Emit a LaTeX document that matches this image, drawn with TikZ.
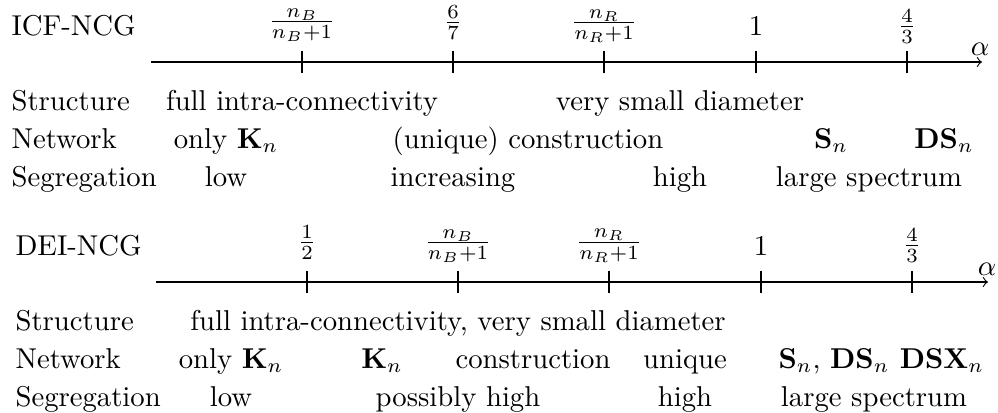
\documentclass[tikz,border=0pt]{standalone}
\begin{document}
\begin{tikzpicture}[x=0.34843pt,y=-0.34843pt,
  txt/.style={anchor=base,inner sep=0pt},
  hd/.style={anchor=base west,inner sep=0pt},
  tickmark/.style={line width=0.4pt}]
\useasboundingbox (0,0) rectangle (998,412);
% ---------------- top: ICF-NCG ----------------
\node[hd] (icf) at (11,35) {ICF-NCG};
\coordinate (ta0) at (151,62);
\coordinate (ta1) at (982,62);
\draw[->] (ta0) -- (ta1);
\foreach \x in {302,453,604,756,907} {\draw[tickmark] (\x,51) -- (\x,73);}
\node[txt] (tl1) at (302,29) {$\frac{n_B}{n_B+1}$};
\node[txt] (tl2) at (453,29.5) {$\frac{6}{7}$};
\node[txt] (tl3) at (604,30) {$\frac{n_R}{n_R+1}$};
\node[txt] (tl4) at (756,35) {$1$};
\node[txt] (tl5) at (907,33.5) {$\frac{4}{3}$};
\node[txt] (talpha) at (980,55) {$\alpha$};
\node[hd] (ts) at (11,110) {Structure};
\node[hd] (tn) at (11,148) {Network};
\node[hd] (tg) at (11,186) {Segregation};
\node[txt] (ts1) at (302,110) {full intra-connectivity};
\node[txt] (ts2) at (680,110) {very small diameter};
\node[txt] (tn1) at (226,148) {only $\mathbf{K}_n$};
\node[txt] (tn2) at (528,148) {(unique) construction};
\node[txt] (tn3) at (831,148) {$\mathbf{S}_n$};
\node[txt] (tn4) at (944,148) {$\mathbf{DS}_n$};
\node[txt] (tg1) at (226,186) {low};
\node[txt] (tg2) at (453,186) {increasing};
\node[txt] (tg3) at (680,186) {high};
\node[txt] (tg4) at (869,186) {large spectrum};
% ---------------- bottom: DEI-NCG ----------------
\node[hd] (dei) at (15,255) {DEI-NCG};
\coordinate (ba0) at (156,282);
\coordinate (ba1) at (988,282);
\draw[->] (ba0) -- (ba1);
\foreach \x in {307,458,609,761,912} {\draw[tickmark] (\x,271) -- (\x,293);}
\node[txt] (bl1) at (307,250) {$\frac{1}{2}$};
\node[txt] (bl2) at (458,250) {$\frac{n_B}{n_B+1}$};
\node[txt] (bl3) at (609,249.5) {$\frac{n_R}{n_R+1}$};
\node[txt] (bl4) at (761,255) {$1$};
\node[txt] (bl5) at (912,252.5) {$\frac{4}{3}$};
\node[txt] (balpha) at (987,275) {$\alpha$};
\node[hd] (bs) at (15,330) {Structure};
\node[hd] (bn) at (15,368) {Network};
\node[hd] (bg) at (15,406) {Segregation};
\node[txt] (bs1) at (458,330) {full intra-connectivity, very small diameter};
\node[txt] (bn1) at (231,368) {only $\mathbf{K}_n$};
\node[txt] (bn2) at (382,368) {$\mathbf{K}_n$};
\node[txt] (bn3) at (533,368) {construction};
\node[txt] (bn4) at (685,368) {unique};
\node[txt] (bn5) at (834,368) {$\mathbf{S}_n$, $\mathbf{DS}_n$};
\node[txt] (bn6) at (942,368) {$\mathbf{DSX}_n$};
\node[txt] (bg1) at (231,406) {low};
\node[txt] (bg2) at (458,406) {possibly high};
\node[txt] (bg3) at (685,406) {high};
\node[txt] (bg4) at (874,406) {large spectrum};
\end{tikzpicture}
\end{document}
